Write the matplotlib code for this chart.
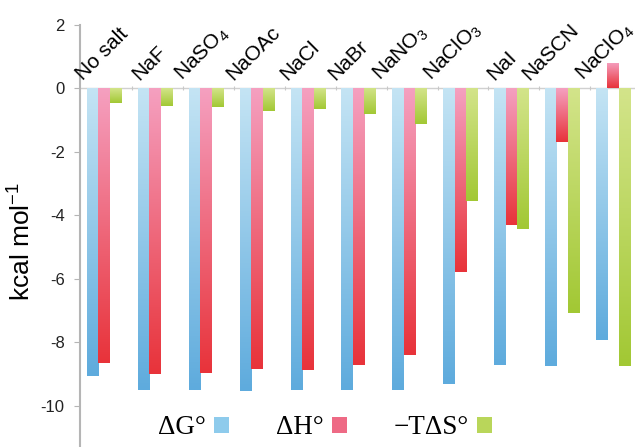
import matplotlib
matplotlib.use("Agg")
import matplotlib.pyplot as plt
import numpy as np
from matplotlib.colors import LinearSegmentedColormap
from matplotlib.patches import Patch

plt.rcParams["font.family"] = ["Liberation Sans", "DejaVu Sans"]
plt.rcParams["mathtext.fontset"] = "custom"
plt.rcParams["mathtext.rm"] = "Liberation Sans"
plt.rcParams["mathtext.it"] = "Liberation Sans:italic"

salts = ["No salt", "NaF", "NaSO$_4$", "NaOAc", "NaCl", "NaBr",
         "NaNO$_3$", "NaClO$_3$", "NaI", "NaSCN", "NaClO$_4$"]
dG = [-9.07, -9.51, -9.51, -9.53, -9.49, -9.50, -9.49, -9.33, -8.71, -8.74, -7.94]
dH = [-8.65, -9.01, -8.96, -8.85, -8.88, -8.70, -8.39, -5.78, -4.31, -1.68, 0.80]
mTdS = [-0.45, -0.56, -0.58, -0.71, -0.64, -0.82, -1.11, -3.56, -4.43, -7.07, -8.75]
yticks = [2, 0, -2, -4, -6, -8, -10]
ytick_labels = ["2", "0", "-2", "-4", "-6", "-8", "-10"]
legend_labels = ["\u0394G\u00b0", "\u0394H\u00b0", "\u2212T\u0394S\u00b0"]

# small nudges of the rotated salt names (data units)
label_dx = [-0.08, 0.02, -0.12, -0.12, -0.06, -0.12, -0.24, -0.24, 0.0, -0.3, -0.24]

# (top colour, bottom colour) of each bar gradient
grads = [("#c4e4f4", "#5eabdd"), ("#f5a0c0", "#e8333a"), ("#d3e48a", "#a2c834")]
mids = ["#8ecbec", "#ee6a85", "#b9d65a"]

fig = plt.figure(figsize=(6.35, 4.47), dpi=100)
ax = fig.add_axes([80 / 635, 0.0, 1 - 80 / 635, 1 - 25 / 447])

x = np.arange(len(salts))
w = 0.226
grad = np.linspace(0, 1, 128).reshape(-1, 1)

for k, vals in enumerate([dG, dH, mTdS]):
    bars = ax.bar(x + (k - 1) * w, vals, width=w, facecolor="none",
                  edgecolor="none", zorder=2)
    cmap = LinearSegmentedColormap.from_list("g%d" % k, [grads[k][1], grads[k][0]])
    for r in bars:
        x0, y0, h = r.get_x(), r.get_y(), r.get_height()
        lo, hi = min(y0, y0 + h), max(y0, y0 + h)
        im = ax.imshow(grad, extent=(x0, x0 + r.get_width(), lo, hi),
                       origin="lower", cmap=cmap, aspect="auto", zorder=2)
        im.set_clip_path(r)

ax.set_xlim(-0.476, 10.43)
ax.set_ylim(-11.3, 2)

for i, name in enumerate(salts):
    ax.text(i - 1.5 * w + label_dx[i], 0.22, name, rotation=45,
            rotation_mode="anchor", ha="left", va="baseline", fontsize=15,
            color="black", clip_on=False)

for s in ["top", "right"]:
    ax.spines[s].set_visible(False)
ax.spines["left"].set_color("#b5b5b5")
ax.spines["left"].set_linewidth(1.5)
ax.spines["bottom"].set_position(("data", 0))
ax.spines["bottom"].set_color("#d0d0d0")
ax.spines["bottom"].set_linewidth(1.0)
ax.spines["bottom"].set_zorder(1)

ax.set_xticks(x[:-1] + 0.55)
ax.tick_params(axis="x", length=3, color="#c8c8c8", direction="inout",
               labelbottom=False)
ax.set_yticks(yticks)
ax.set_yticklabels(ytick_labels)
ax.tick_params(axis="y", length=4, color="#b5b5b5", labelsize=12,
               labelcolor="#222222", pad=7)

fig.text(22 / 635, 1 - 241 / 447, "kcal mol$^{-1}$", rotation=90,
         ha="center", va="center", fontsize=19)

handles = [Patch(facecolor=c, edgecolor="none") for c in mids]
fig.legend(handles, legend_labels, loc="center",
           bbox_to_anchor=(325 / 635, 1 - 428 / 447), ncol=3, frameon=False,
           markerfirst=False, handlelength=0.55, handleheight=0.55,
           handletextpad=0.3, columnspacing=1.75,
           prop={"family": "Liberation Serif", "size": 19.5})

fig.savefig("out.png", dpi=100, facecolor="white")
